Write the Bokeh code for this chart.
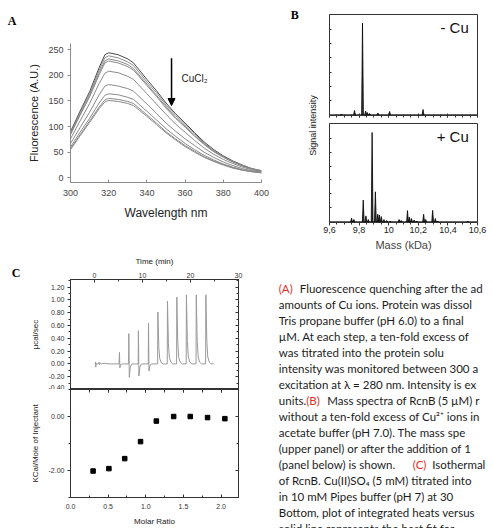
from bokeh.plotting import figure
from bokeh.layouts import row, column
from bokeh.models import (Range1d, LinearAxis, FixedTicker, SingleIntervalTicker,
                          NumeralTickFormatter, Label, Arrow, NormalHead)
from bokeh.core.properties import value
from bokeh.embed import file_html
from bokeh.resources import INLINE

SANS = "Liberation Sans"
SERIF = "Liberation Serif"

# ---------------- Panel A : fluorescence quenching ----------------
wavelength = [300, 305, 310, 315, 318, 320, 325, 330, 333, 340, 345, 350, 355, 360,
              365, 370, 375, 380, 385, 390, 395, 400]
fluor_1 = [90, 130, 168, 215, 240, 244, 240, 232, 224, 192, 170, 146, 125, 107, 88, 70, 55, 43, 33, 25, 18, 14]
fluor_2 = [88, 127, 164, 210, 234, 238, 234, 226, 219, 187, 166, 142, 122, 104, 86, 68, 53, 42, 32, 24, 18, 14]
fluor_3 = [86, 124, 160, 205, 228, 232, 228, 221, 213, 183, 161, 139, 118, 101, 83, 66, 52, 41, 31, 24, 17, 13]
fluor_4 = [84, 122, 158, 201, 224, 228, 224, 217, 210, 180, 159, 136, 116, 99, 81, 65, 51, 40, 31, 23, 17, 13]
fluor_5 = [76, 111, 145, 184, 204, 208, 205, 198, 192, 164, 144, 124, 105, 89, 73, 58, 46, 36, 28, 21, 16, 12]
fluor_6 = [67, 98, 128, 162, 179, 182, 179, 174, 169, 144, 126, 107, 91, 76, 63, 50, 40, 31, 24, 18, 14, 11]
fluor_7 = [60, 89, 116, 146, 161, 164, 162, 157, 153, 130, 113, 96, 81, 67, 55, 44, 35, 27, 21, 16, 13, 10]
fluor_8 = [57, 84, 111, 138, 152, 155, 153, 149, 145, 123, 107, 90, 76, 63, 52, 41, 33, 26, 20, 15, 12, 10]
fluor_9 = [55, 82, 108, 135, 148, 151, 149, 145, 141, 120, 104, 88, 74, 61, 50, 40, 32, 25, 19, 15, 12, 10]
fluor_curves = [fluor_1, fluor_2, fluor_3, fluor_4, fluor_5, fluor_6, fluor_7, fluor_8, fluor_9]

# ---------------- Panel B : mass spectra ----------------
mass_minus_cu = [9.68, 9.769, 9.823, 9.844, 9.855, 9.87, 9.927, 10.006, 10.232]
intens_minus_cu = [0.015, 0.05, 0.915, 0.045, 0.03, 0.02, 0.025, 0.04, 0.06]
mass_plus_cu = [9.749, 9.765, 9.828, 9.846, 9.862, 9.888, 9.91, 9.926, 9.937, 9.95, 9.968,
                9.987, 10.01, 10.07, 10.084, 10.127, 10.14, 10.154, 10.172, 10.19, 10.236,
                10.25, 10.297, 10.315, 10.33, 10.534]
intens_plus_cu = [0.045, 0.03, 0.227, 0.067, 0.03, 0.91, 0.31, 0.083, 0.077, 0.06, 0.03,
                  0.02, 0.015, 0.03, 0.02, 0.12, 0.055, 0.04, 0.025, 0.015, 0.083,
                  0.03, 0.123, 0.04, 0.015, 0.01]
baseline_level = 0.006
mass_tick_values = [9.6, 9.8, 10.0, 10.2, 10.4, 10.6]
mass_tick_labels = ["9,6", "9,8", "10", "10,2", "10,4", "10,6"]
mass_minor_ticks = [round(9.6 + 0.05 * k, 2) for k in range(21)]
intensity_ticks = [0.15, 0.29, 0.43, 0.57, 0.71, 0.85]

# ---------------- Panel C : ITC ----------------
itc_time = [0.15, 0.2, 0.25, 0.4, 0.7, 0.9, 1.0, 1.1, 1.4, 2.0, 3.0, 4.0, 5.1,
            5.2, 5.28, 5.45, 5.8, 7.1,
            7.15, 7.25, 7.45, 7.8, 9.1,
            9.15, 9.25, 9.45, 9.8, 11.2,
            11.25, 11.35, 11.55, 11.9, 13.15,
            13.2, 13.4, 13.6, 13.9, 14.3, 15.15,
            15.2, 15.4, 15.6, 15.9, 16.3, 17.1,
            17.15, 17.35, 17.55, 17.85, 18.3, 19.1,
            19.15, 19.35, 19.55, 19.85, 20.3, 21.15,
            21.2, 21.4, 21.6, 21.9, 22.3, 23.15,
            23.2, 23.4, 23.6, 23.9, 24.3, 24.8]
itc_power = [0.0, 0.03, -0.05, 0.01, 0.0, 0.02, -0.01, 0.02, 0.0, 0.01, 0.0, 0.0, 0.0,
             0.18, -0.06, -0.01, 0.0, 0.0,
             0.475, -0.21, -0.05, 0.0, 0.0,
             0.52, -0.19, -0.05, 0.0, 0.0,
             0.64, -0.11, -0.02, 0.0, 0.0,
             0.81, 0.25, 0.08, 0.02, 0.0, 0.0,
             0.98, 0.32, 0.1, 0.03, 0.0, 0.0,
             1.045, 0.34, 0.1, 0.03, 0.0, 0.0,
             1.08, 0.35, 0.11, 0.03, 0.0, 0.0,
             1.08, 0.35, 0.11, 0.03, 0.0, 0.0,
             1.08, 0.36, 0.11, 0.03, 0.0, 0.0]
molar_ratio = [0.30, 0.51, 0.72, 0.93, 1.14, 1.37, 1.59, 1.82, 2.05]
heat_kcal = [-2.02, -1.93, -1.56, -0.93, -0.17, 0.0, 0.0, -0.04, -0.08]

# ---------------- Caption ----------------
RED = "#e2301f"
INK = "#1c1c1c"
caption_lines = [
    [("(A)", RED, 0), ("Fluorescence quenching after the ad", INK, 21)],
    [("amounts of Cu ions. Protein was dissol", INK, 0)],
    [("Tris propane buffer (pH 6.0) to a final", INK, 0)],
    [("µM. At each step, a ten-fold excess of", INK, 0)],
    [("was titrated into the protein solu", INK, 0)],
    [("intensity was monitored between 300 a", INK, 0)],
    [("excitation at λ = 280 nm. Intensity is ex", INK, 0)],
    [("units.", INK, 0), ("(B)", RED, 27.4), ("Mass spectra of RcnB (5 µM) r", INK, 48.4)],
    [("without a ten-fold excess of Cu²⁺ ions in", INK, 0)],
    [("acetate buffer (pH 7.0). The mass spe", INK, 0)],
    [("(upper panel) or after the addition of 1", INK, 0)],
    [("(panel below) is shown.", INK, 0), ("(C)", RED, 134), ("Isothermal", INK, 153.4)],
    [("of RcnB. Cu(II)SO₄ (5 mM) titrated into", INK, 0)],
    [("in 10 mM Pipes buffer (pH 7) at 30", INK, 0)],
    [("Bottom, plot of integrated heats versus", INK, 0)],
    [("solid line represents the best fit for", INK, 0)],
]


def hide_labels(ax):
    ax.major_label_text_color = None
    ax.major_label_standoff = 0
    ax.axis_label = None


def base_fig(**kw):
    p = figure(output_backend="svg", toolbar_location=None, **kw)
    p.grid.visible = False
    p.background_fill_color = "white"
    p.border_fill_color = "white"
    return p


def gutter_fig(x0, x1, y0, y1):
    p = base_fig(width=x1 - x0, height=y1 - y0, x_range=Range1d(x0, x1), y_range=Range1d(y1, y0),
                 x_axis_location=None, y_axis_location=None, min_border=0)
    p.outline_line_color = None
    return p


def panel_letter(p, x, y, letter):
    p.text(x=[x], y=[y], text=[letter], text_font=value(SERIF), text_font_style="bold",
           text_font_size="12px", text_align="center", text_baseline="middle", text_color="black")


# ===== Figure A =====
gA = gutter_fig(0, 20, 0, 253)
panel_letter(gA, 11.7, 20.7, "A")

pA = base_fig(width=265, height=253, x_range=Range1d(300, 400), y_range=Range1d(-9, 262),
              min_border_left=50, min_border_right=24, min_border_top=43, min_border_bottom=71)
pA.outline_line_color = None
for i, ys in enumerate(fluor_curves):
    pA.line(wavelength, ys, line_color="#474747" if i == 0 else "#8a8a8a", line_width=1)

for ax in (pA.xaxis[0], pA.yaxis[0]):
    ax.axis_line_color = "#8c8c8c"
    ax.major_tick_line_color = "#8c8c8c"
    ax.minor_tick_line_color = None
    ax.major_label_text_font = SANS
    ax.major_label_text_font_size = "9px"
    ax.major_label_text_color = "#444444"
    ax.axis_label_text_font = SANS
    ax.axis_label_text_font_style = "normal"
    ax.axis_label_text_color = "#222222"
pA.yaxis.ticker = SingleIntervalTicker(interval=50)
pA.yaxis.major_tick_out = 3
pA.yaxis.major_tick_in = 0
pA.yaxis.major_label_standoff = 3
pA.yaxis.axis_label = "Fluorescence (A.U.)"
pA.yaxis.axis_label_text_font_size = "11px"
pA.yaxis.axis_label_standoff = 5
pA.xaxis.ticker = SingleIntervalTicker(interval=20)
pA.xaxis.major_tick_out = 0
pA.xaxis.major_tick_in = 3
pA.xaxis.major_label_standoff = 3
pA.xaxis.axis_label = "Wavelength nm"
pA.xaxis.axis_label_text_font_size = "12px"
pA.xaxis.axis_label_standoff = 7

pA.add_layout(Arrow(end=NormalHead(size=7, fill_color="black", line_color="black"),
                    x_start=352.9, y_start=233, x_end=352.9, y_end=141,
                    line_color="black", line_width=1.5))
pA.add_layout(Label(x=358.1, y=194.4, text="CuCl₂", text_font=SANS, text_font_size="10px",
                    text_baseline="middle", text_align="left", text_color="#222222"))

gB = gutter_fig(285, 322, 0, 253)
panel_letter(gB, 294.3, 14, "B")
gB.text(x=[312.7], y=[125], text=["Signal intensity"], angle=1.5708, text_font=value(SANS),
        text_font_size="9px", text_align="center", text_baseline="middle", text_color="#222222")


# ===== Figures B =====
def spectrum_fig(height, top, bottom, masses, intens, tag, with_labels):
    p = base_fig(width=171, height=height, x_range=Range1d(9.6, 10.6), y_range=Range1d(0, 1),
                 min_border_left=7, min_border_right=16, min_border_top=top, min_border_bottom=bottom)
    p.outline_line_color = "#333333"
    p.outline_line_width = 1
    half = 0.006
    xs = [[m - half, m, m + half] for m in masses]
    ys = [[baseline_level, h, baseline_level] for h in intens]
    p.line([9.6, 10.6], [baseline_level, baseline_level], line_color="black", line_width=1)
    p.patches(xs, ys, fill_color="#3a3a3a", line_color="black", line_width=0.8)
    p.add_layout(Label(x=10.541, y=0.87, text=tag, text_font=SANS, text_font_size="15px",
                       text_align="right", text_baseline="middle", text_color="#111111"))
    ya = p.yaxis[0]
    ya.ticker = FixedTicker(ticks=intensity_ticks)
    ya.major_tick_in = 2
    ya.major_tick_out = 0
    ya.minor_tick_line_color = None
    ya.axis_line_color = "#333333"
    ya.major_tick_line_color = "#333333"
    hide_labels(ya)
    xa = p.xaxis[0]
    xa.axis_line_color = "#333333"
    xa.major_tick_line_color = "#333333"
    xa.minor_tick_line_color = "#333333"
    xa.ticker = FixedTicker(ticks=mass_tick_values, minor_ticks=mass_minor_ticks)
    if with_labels:
        xa.major_label_overrides = {v: s for v, s in zip(mass_tick_values, mass_tick_labels)}
        xa.major_tick_out = 3
        xa.major_tick_in = 0
        xa.minor_tick_out = 2
        xa.minor_tick_in = 0
        xa.major_label_text_font = SANS
        xa.major_label_text_font_size = "9px"
        xa.major_label_text_color = "#222222"
        xa.major_label_standoff = 1
        xa.axis_label = "Mass (kDa)"
        xa.axis_label_text_font = SANS
        xa.axis_label_text_font_size = "11px"
        xa.axis_label_text_font_style = "normal"
        xa.axis_label_standoff = 3
    else:
        xa.major_tick_out = 2
        xa.major_tick_in = 2
        xa.minor_tick_out = 2
        xa.minor_tick_in = 1
        hide_labels(xa)
    return p


pB1 = spectrum_fig(119, 14, 4, mass_minus_cu, intens_minus_cu, "- Cu", False)
pB2 = spectrum_fig(134, 4, 30, mass_plus_cu, intens_plus_cu, "+ Cu", True)


# ===== Figures C =====
def style_c_axis(ax):
    ax.axis_line_color = "#333333"
    ax.major_tick_line_color = "#333333"
    ax.minor_tick_line_color = "#333333"
    ax.major_label_text_font = SANS
    ax.major_label_text_font_size = "7px"
    ax.major_label_text_color = "#333333"
    ax.axis_label_text_font = SANS
    ax.axis_label_text_font_size = "8px"
    ax.axis_label_text_font_style = "normal"
    ax.axis_label_text_color = "#222222"


gC = gutter_fig(0, 24, 253, 528)
panel_letter(gC, 15.7, 272.7, "C")

pC1 = base_fig(width=246, height=136, x_range=Range1d(-5, 30), y_range=Range1d(-0.40, 1.32),
               x_axis_location="above",
               min_border_left=46, min_border_right=32, min_border_top=25, min_border_bottom=0)
pC1.outline_line_color = "#333333"
pC1.line(itc_time, itc_power, line_color="#9a9a9a", line_width=1)
ta = pC1.xaxis[0]
style_c_axis(ta)
ta.ticker = SingleIntervalTicker(interval=10, num_minor_ticks=2)
ta.major_tick_in = 3
ta.major_tick_out = 0
ta.minor_tick_in = 2
ta.minor_tick_out = 0
ta.major_label_standoff = 2
ta.axis_label = "Time (min)"
ta.axis_label_standoff = 4
la = pC1.yaxis[0]
style_c_axis(la)
la.ticker = SingleIntervalTicker(interval=0.2, num_minor_ticks=2)
la.formatter = NumeralTickFormatter(format="0.00")
la.major_tick_out = 3
la.major_tick_in = 0
la.minor_tick_out = 2
la.minor_tick_in = 0
la.major_label_standoff = 3
la.axis_label = "µcal/sec"
la.axis_label_standoff = 6
ra = LinearAxis(ticker=SingleIntervalTicker(interval=0.2, num_minor_ticks=2))
style_c_axis(ra)
ra.major_tick_in = 3
ra.major_tick_out = 0
ra.minor_tick_in = 2
ra.minor_tick_out = 0
hide_labels(ra)
pC1.add_layout(ra, "right")

pC2 = base_fig(width=246, height=139, x_range=Range1d(0, 2.231), y_range=Range1d(-3, 1),
               min_border_left=46, min_border_right=32, min_border_top=0, min_border_bottom=31)
pC2.outline_line_color = "#333333"
pC2.scatter(molar_ratio, heat_kcal, marker="square", size=4.5, color="black")
ba = pC2.xaxis[0]
style_c_axis(ba)
ba.ticker = SingleIntervalTicker(interval=0.5, num_minor_ticks=2)
ba.formatter = NumeralTickFormatter(format="0.0")
ba.major_tick_in = 3
ba.major_tick_out = 0
ba.minor_tick_in = 2
ba.minor_tick_out = 0
ba.major_label_standoff = 6
ba.axis_label = "Molar Ratio"
ba.axis_label_standoff = 5
la2 = pC2.yaxis[0]
style_c_axis(la2)
la2.ticker = FixedTicker(ticks=[-2, 0], minor_ticks=[-3, -1, 1])
la2.formatter = NumeralTickFormatter(format="0.00")
la2.major_tick_out = 3
la2.major_tick_in = 0
la2.minor_tick_out = 2
la2.minor_tick_in = 0
la2.major_label_standoff = 3
la2.axis_label = "KCal/Mole of Injectant"
la2.axis_label_standoff = 6
tb = LinearAxis(ticker=SingleIntervalTicker(interval=0.5, num_minor_ticks=2))
style_c_axis(tb)
tb.major_tick_in = 3
tb.major_tick_out = 0
tb.minor_tick_in = 3
tb.minor_tick_out = 0
hide_labels(tb)
pC2.add_layout(tb, "above")
rb = LinearAxis(ticker=FixedTicker(ticks=[-2, 0], minor_ticks=[-3, -1, 1]))
style_c_axis(rb)
rb.major_tick_in = 3
rb.major_tick_out = 0
rb.minor_tick_in = 2
rb.minor_tick_out = 0
hide_labels(rb)
pC2.add_layout(rb, "right")

# ===== Caption =====
pT = gutter_fig(270, 493, 253, 528)
LINE_X0 = 278.3
LINE_Y0 = 288.3
LINE_STEP = 16.0
tx, ty, tt, tc = [], [], [], []
for i, segs in enumerate(caption_lines):
    for text, col, dx in segs:
        tx.append(LINE_X0 + dx)
        ty.append(LINE_Y0 + LINE_STEP * i)
        tt.append(text)
        tc.append(col)
pT.text(x=tx, y=ty, text=tt, text_color=tc, text_font=value("Lato"),
        text_font_size="11.5px", text_baseline="middle", text_align="left")

# gutters are wrapped in their own columns so that their frames are not
# aligned with the frame of panel A
layout = column(row(column(gA), pA, column(gB), column(pB1, pB2)),
                row(column(gC), column(pC1, pC2), column(pT)))

open("out.html", "w").write(file_html(layout, INLINE))
